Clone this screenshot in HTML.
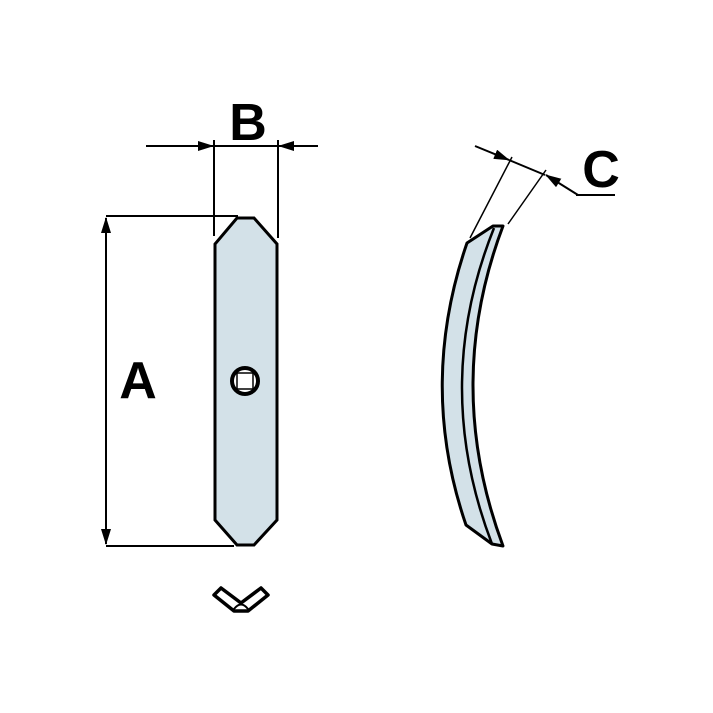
<!DOCTYPE html>
<html><head><style>body{margin:0;background:#fff}svg{display:block}</style></head><body>
<svg width="713" height="713" viewBox="0 0 713 713" xmlns="http://www.w3.org/2000/svg">
<defs>
<marker id="ar" markerWidth="16" markerHeight="10" refX="15" refY="5" orient="auto" markerUnits="userSpaceOnUse"><path d="M0,0 L16,5 L0,10 Z" fill="#000"/></marker>
</defs>
<g stroke="#000" stroke-width="2" fill="none">
<line x1="106" y1="216" x2="238" y2="216"/>
<line x1="106" y1="546" x2="234" y2="546"/>
<line x1="106" y1="381" x2="106" y2="218" marker-end="url(#ar)"/>
<line x1="106" y1="381" x2="106" y2="544" marker-end="url(#ar)"/>
<line x1="214" y1="140" x2="214" y2="236"/>
<line x1="278" y1="140" x2="278" y2="238"/>
<line x1="146" y1="146" x2="213" y2="146" marker-end="url(#ar)"/>
<line x1="214" y1="146" x2="278" y2="146"/>
<line x1="318" y1="146" x2="279" y2="146" marker-end="url(#ar)"/>
<line x1="475" y1="146" x2="509" y2="160" marker-end="url(#ar)"/>
<line x1="509" y1="160" x2="545" y2="175"/>
<line x1="578" y1="195" x2="546" y2="175" marker-end="url(#ar)"/>
<line x1="576" y1="195" x2="615" y2="195"/>
<line x1="512" y1="157" x2="470" y2="238" stroke-width="1.5"/>
<line x1="546" y1="170" x2="508" y2="224" stroke-width="1.5"/>
</g>
<path d="M237,218 L254,218 L277,244 L277,520 L254,545 L237,545 L215,520 L215,244 Z" fill="#d3e1e8" stroke="#000" stroke-width="3"/>
<circle cx="245" cy="381" r="13" fill="#fff" stroke="#000" stroke-width="4"/>
<rect x="237" y="373" width="16" height="16" fill="#fff" stroke="#000" stroke-width="1.5"/>
<path d="M467,243 Q418,385 466,525 L492,544 L503,546 Q443,385 503,226 L493,226 Z" fill="#d3e1e8" stroke="#000" stroke-width="3" stroke-linejoin="round"/>
<path d="M494,228 Q431,385 492,544" fill="none" stroke="#000" stroke-width="2.5"/>
<path d="M214,595 L221,588 L241,603 L261,588 L268,595 L248,611 L234,611 Z" fill="#fff" stroke="#000" stroke-width="3.5" stroke-linejoin="round"/>
<path d="M234,609 Q241,600 248,609" fill="none" stroke="#000" stroke-width="2"/>
<g font-family="Liberation Sans, sans-serif" font-weight="bold" font-size="52" fill="#000">
<text x="248" y="140" text-anchor="middle">B</text>
<text x="138" y="398" text-anchor="middle">A</text>
<text x="601" y="187" text-anchor="middle">C</text>
</g>
</svg>
</body></html>
